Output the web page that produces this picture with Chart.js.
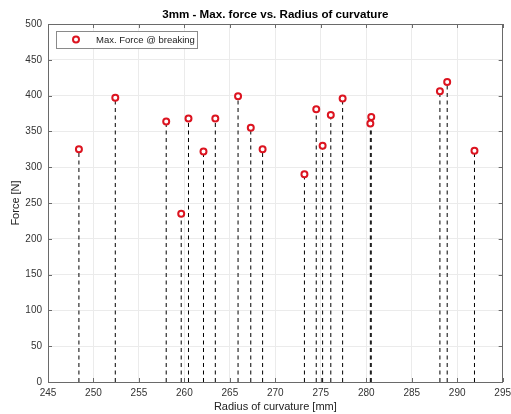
<!DOCTYPE html>
<html>
<head>
<meta charset="utf-8">
<script src="https://cdn.jsdelivr.net/npm/chart.js@4.4.1/dist/chart.umd.min.js"></script>
<style>
  html, body { margin: 0; padding: 0; background: #fff; overflow: hidden; }
  canvas { display: block; }
</style>
</head>
<body>
<canvas id="c" width="516" height="414"></canvas>
<script>
// Radius of curvature of each specimen [mm]
const radius = [248.4, 252.4, 258.0, 259.65, 260.45, 262.1, 263.4, 265.9, 267.3, 268.6,
                273.2, 274.5, 275.2, 276.1, 277.4, 280.55, 280.45, 288.1, 288.9, 291.9];
// Maximum force at breaking [N]
const force = [325, 397, 364, 235, 368, 322, 368, 399, 355, 325,
               290, 381, 330, 373, 396, 370, 361, 406, 419, 323];
const xTicks = [245, 250, 255, 260, 265, 270, 275, 280, 285, 290, 295];
const yTicks = [0, 50, 100, 150, 200, 250, 300, 350, 400, 450, 500];

const titleText = '3mm - Max. force vs. Radius of curvature';
const seriesLabel = 'Max. Force @ breaking';

const FONT = '"Liberation Sans", Arial, Helvetica, sans-serif';
const RED = '#dc1420';
const AXIS = '#6a6a6a';

// stems: one dashed segment per point, from 0 up to the value, separated by gaps
const stems = [];
radius.forEach((r, i) => {
  stems.push({ x: r, y: 0 }, { x: r, y: force[i] }, { x: r, y: null });
});
const points = radius.map((r, i) => ({ x: r, y: force[i] }));

// box, inward tick marks, title and legend in the usual style of a lab plot
const frame = {
  id: 'frame',
  afterDatasetsDraw(chart) {
    const { ctx, chartArea: a, scales: { x, y } } = chart;
    ctx.save();
    ctx.strokeStyle = AXIS;
    ctx.lineWidth = 1;
    ctx.strokeRect(Math.round(a.left) + 0.5, Math.round(a.top) + 0.5,
                   Math.round(a.right - a.left) - 1, Math.round(a.bottom - a.top));
    const tl = 4;
    ctx.beginPath();
    xTicks.forEach(v => {
      const px = Math.round(x.getPixelForValue(v)) + 0.5;
      ctx.moveTo(px, a.bottom); ctx.lineTo(px, a.bottom - tl);
      ctx.moveTo(px, a.top); ctx.lineTo(px, a.top + tl);
    });
    yTicks.forEach(v => {
      const py = Math.round(y.getPixelForValue(v)) + 0.5;
      ctx.moveTo(a.left, py); ctx.lineTo(a.left + tl, py);
      ctx.moveTo(a.right, py); ctx.lineTo(a.right - tl, py);
    });
    ctx.stroke();
    ctx.restore();
  },
  afterDraw(chart) {
    const { ctx, chartArea: a } = chart;
    ctx.save();
    // title
    ctx.fillStyle = '#000';
    ctx.font = 'bold 11.6px ' + FONT;
    ctx.textAlign = 'center';
    ctx.textBaseline = 'middle';
    ctx.fillText(titleText, (a.left + a.right) / 2, 15);
    // legend
    const lx = Math.round(a.left) + 8, ly = Math.round(a.top) + 7;
    ctx.fillStyle = '#fff';
    ctx.fillRect(lx, ly, 141, 17);
    ctx.strokeStyle = '#8a8a8a';
    ctx.lineWidth = 1;
    ctx.strokeRect(lx + 0.5, ly + 0.5, 141, 17);
    ctx.beginPath();
    ctx.arc(lx + 20, ly + 8.5, 3, 0, Math.PI * 2);
    ctx.fillStyle = '#fff';
    ctx.fill();
    ctx.lineWidth = 2;
    ctx.strokeStyle = RED;
    ctx.stroke();
    ctx.fillStyle = '#222';
    ctx.font = '9.5px ' + FONT;
    ctx.textAlign = 'left';
    ctx.fillText(seriesLabel, lx + 40, ly + 9);
    ctx.restore();
  }
};

new Chart(document.getElementById('c'), {
  type: 'scatter',
  data: {
    datasets: [
      {
        label: seriesLabel,
        data: points,
        showLine: false,
        pointStyle: 'circle',
        pointRadius: 3,
        pointHoverRadius: 3,
        pointBorderWidth: 2,
        pointBorderColor: RED,
        pointBackgroundColor: '#fff'
      },
      {
        label: 'stems',
        data: stems,
        showLine: true,
        spanGaps: false,
        borderColor: '#000',
        borderWidth: 1,
        borderDash: [4, 3.5],
        pointRadius: 0,
        pointHoverRadius: 0
      }
    ]
  },
  options: {
    responsive: false,
    animation: false,
    events: [],
    layout: { padding: { top: 24, right: 13, left: 0, bottom: 0 } },
    plugins: {
      legend: { display: false },
      title: { display: false },
      tooltip: { enabled: false }
    },
    scales: {
      x: {
        type: 'linear',
        min: 245, max: 295,
        afterBuildTicks: s => { s.ticks = xTicks.map(v => ({ value: v })); },
        afterFit: s => { s.height = 32; },
        ticks: { color: '#333', font: { family: FONT, size: 10 }, padding: 5, maxRotation: 0, autoSkip: false },
        grid: { color: '#ebebeb', drawTicks: false, tickLength: 0 },
        border: { display: true, color: AXIS },
        title: { display: true, text: 'Radius of curvature [mm]', color: '#222',
                 font: { family: FONT, size: 11 }, padding: { top: 0, bottom: 0 } }
      },
      y: {
        type: 'linear',
        min: 0, max: 500,
        afterBuildTicks: s => { s.ticks = yTicks.map(v => ({ value: v })); },
        afterFit: s => { s.width = 48; },
        ticks: { color: '#333', font: { family: FONT, size: 10 }, padding: 6, autoSkip: false },
        grid: { color: '#ebebeb', drawTicks: false, tickLength: 0 },
        border: { display: true, color: AXIS },
        title: { display: true, text: 'Force [N]', color: '#222',
                 font: { family: FONT, size: 11 }, padding: { top: 9, bottom: 0 } }
      }
    }
  },
  plugins: [frame]
});
</script>
</body>
</html>
